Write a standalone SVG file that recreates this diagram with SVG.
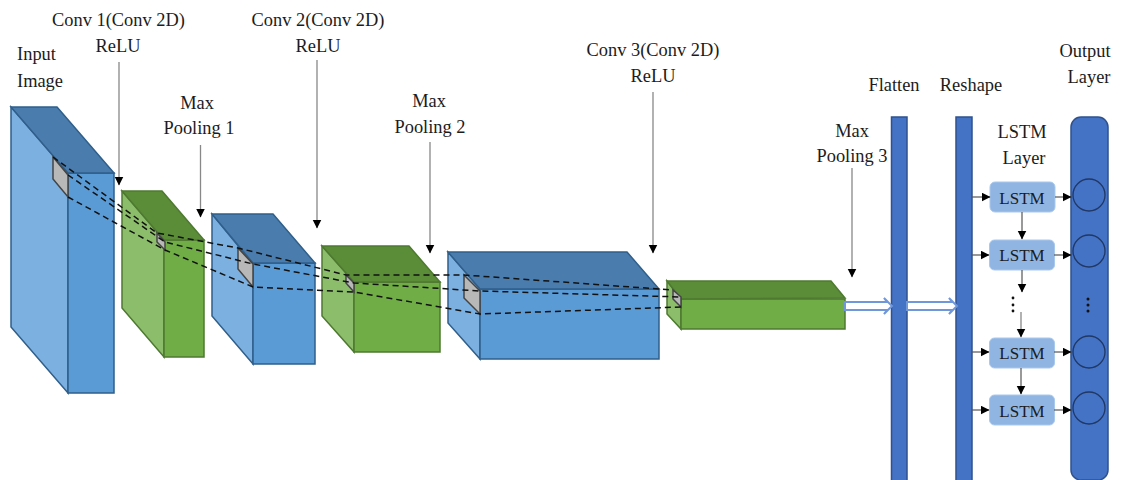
<svg xmlns="http://www.w3.org/2000/svg" width="1122" height="480" viewBox="0 0 1122 480">
<style>
text{font-family:"Liberation Serif","Times New Roman",serif;font-size:18.4px;fill:#1c1c1c;text-anchor:middle}
.in{font-size:17px}
.bl{fill:#7cb0e0;stroke:#2f5f8a;stroke-width:1.5}
.bf{fill:#5b9bd5;stroke:#2f5f8a;stroke-width:1.5}
.bt{fill:#4a7dae;stroke:#2f5f8a;stroke-width:1.5}
.gl{fill:#8cbd6b;stroke:#4d7a30;stroke-width:1.5}
.gf{fill:#70ad47;stroke:#4d7a30;stroke-width:1.5}
.gt{fill:#5b8c38;stroke:#4d7a30;stroke-width:1.5}
.p{fill:#b8b8b8;stroke:#444;stroke-width:1.5}
.d{fill:none;stroke:#111;stroke-width:1.5;stroke-dasharray:6 4}
.a{fill:none;stroke:#888;stroke-width:1.3;marker-end:url(#ah)}
.b{fill:none;stroke:#555;stroke-width:1.2;marker-end:url(#ah)}
.bar{fill:#4472c4;stroke:#2f528f;stroke-width:1.5}
.ls{fill:#90b5e2;stroke:#a9c9ec;stroke-width:1}
.c{fill:none;stroke:#203864;stroke-width:1.3}
.h{fill:#fff;stroke:#7097da;stroke-width:2}
.dot{fill:#111}
</style>
<defs>
<marker id="ah" markerWidth="12" markerHeight="12" refX="8.500" refY="4.500" orient="auto" markerUnits="userSpaceOnUse"><path d="M0 0L9 4.500L0 9Z" fill="#000"/></marker>
</defs>
<g id="input-volume">
<polygon class="bl" points="11,107 68,173 68,393 11,327"/>
<polygon class="bf" points="68,173 114,173 114,393 68,393"/>
<polygon class="bt" points="11,107 57,107 114,173 68,173"/>
<polygon class="p" points="53,157 68,175 68,197 53,179"/>
</g>
<g id="pool1-volume">
<polygon class="gl" points="122,191 164,240 164,357 122,308"/>
<polygon class="gf" points="164,240 204,240 204,357 164,357"/>
<polygon class="gt" points="122,191 162,191 204,240 164,240"/>
<polygon class="p" points="157,233 165,242 165,250 157,242"/>
</g>
<g id="conv2-volume">
<polygon class="bl" points="212,214 253,264 253,364 212,316"/>
<polygon class="bf" points="253,263 315,263 315,364 253,364"/>
<polygon class="bt" points="212,214 273,214 315,263 253,263"/>
<polygon class="p" points="238,248 253,264 253,287 238,269"/>
</g>
<g id="pool2-volume">
<polygon class="gl" points="322,246 354,282 354,352 322,316"/>
<polygon class="gf" points="354,282 440,282 440,352 354,352"/>
<polygon class="gt" points="322,246 409,246 440,282 354,282"/>
<polygon class="p" points="346,275 354,283 354,292 346,283"/>
</g>
<g id="conv3-volume">
<polygon class="bl" points="448,252 480,289 480,359 448,323"/>
<polygon class="bf" points="480,289 659,289 659,359 480,359"/>
<polygon class="bt" points="448,252 627,252 659,289 480,289"/>
<polygon class="p" points="464,275 480,291 480,314 464,298"/>
</g>
<g id="pool3-volume">
<polygon class="gl" points="667,281 681,299 681,329 667,314"/>
<polygon class="gf" points="681,299 845,299 845,329 681,329"/>
<polygon class="gt" points="667,281 831,281 845,298 681,299"/>
<polygon class="p" points="673,290 681,297 681,307 673,299"/>
</g>
<g id="flatten"><rect class="bar" x="891.500" y="117" width="15.500" height="364"/></g>
<g id="reshape"><rect class="bar" x="956" y="117" width="16" height="364"/></g>
<g id="output-layer">
<rect class="bar" x="1071" y="117" width="37" height="363" rx="10"/>
<circle class="c" cx="1089" cy="195" r="16"/>
<circle class="c" cx="1089" cy="251" r="16"/>
<circle class="c" cx="1089" cy="352" r="16"/>
<circle class="c" cx="1089" cy="408" r="16"/>
<circle class="dot" cx="1088" cy="299" r="1.500"/><circle class="dot" cx="1088" cy="305" r="1.500"/><circle class="dot" cx="1088" cy="311" r="1.500"/>
</g>
<g id="lstm-1"><rect class="ls" x="990" y="182" width="65" height="30" rx="5"/><text class="in" x="1022" y="204">LSTM</text></g>
<g id="lstm-2"><rect class="ls" x="989.500" y="240" width="65" height="30" rx="5"/><text class="in" x="1022" y="261">LSTM</text></g>
<g id="lstm-3"><rect class="ls" x="989.500" y="338" width="65" height="30" rx="5"/><text class="in" x="1022" y="359">LSTM</text></g>
<g id="lstm-4"><rect class="ls" x="989.500" y="395" width="65" height="30" rx="5"/><text class="in" x="1022" y="417">LSTM</text></g>
<g id="connectors">
<path class="d" d="M53 157L157 233L238 248L346 275L464 275L673 290"/>
<path class="d" d="M68 175L165 242L253 264L354 283L480 291L681 297"/>
<path class="d" d="M68 197L165 250L253 287L354 292L480 314L681 307"/>
<path class="a" d="M119 62V185"/>
<path class="a" d="M200.500 145V217"/>
<path class="a" d="M317 60V228"/>
<path class="a" d="M430 142V253"/>
<path class="a" d="M653 92V253"/>
<path class="a" d="M852 168V277"/>
<path class="h" d="M845 302H887L884 298L892 306L884 314L887 310H845Z"/>
<path class="h" d="M907 302H952L949 298L957 306L949 314L952 310H907Z"/>
<path class="b" d="M972 197H990"/><path class="b" d="M972 255H989"/><path class="b" d="M972 352H989"/><path class="b" d="M972 410H989"/>
<path class="b" d="M1055 197H1071"/><path class="b" d="M1054 255H1071"/><path class="b" d="M1054 352H1071"/><path class="b" d="M1054 410H1071"/>
<path class="b" d="M1022 212V239"/><path class="b" d="M1022 270V292"/><path class="a" d="M1021 312V337"/><path class="b" d="M1021 368V394"/>
<circle class="dot" cx="1013" cy="298" r="1.400"/><circle class="dot" cx="1013" cy="305" r="1.400"/><circle class="dot" cx="1013" cy="311" r="1.400"/>
</g>
<g id="labels">
<text x="36.500" y="60">Input</text><text x="40" y="87">Image</text>
<text x="118.500" y="26">Conv 1(Conv 2D)</text><text x="118" y="52">ReLU</text>
<text x="197" y="109">Max</text><text x="199" y="134">Pooling 1</text>
<text x="318" y="26">Conv 2(Conv 2D)</text><text x="318" y="52">ReLU</text>
<text x="429" y="107">Max</text><text x="430" y="133">Pooling 2</text>
<text x="653" y="56">Conv 3(Conv 2D)</text><text x="653" y="82">ReLU</text>
<text x="852" y="137">Max</text><text x="852" y="162">Pooling 3</text>
<text x="894" y="91">Flatten</text>
<text x="971" y="91">Reshape</text>
<text x="1022" y="138">LSTM</text><text x="1024" y="164">Layer</text>
<text x="1085" y="57">Output</text><text x="1089" y="83">Layer</text>
</g>
</svg>
